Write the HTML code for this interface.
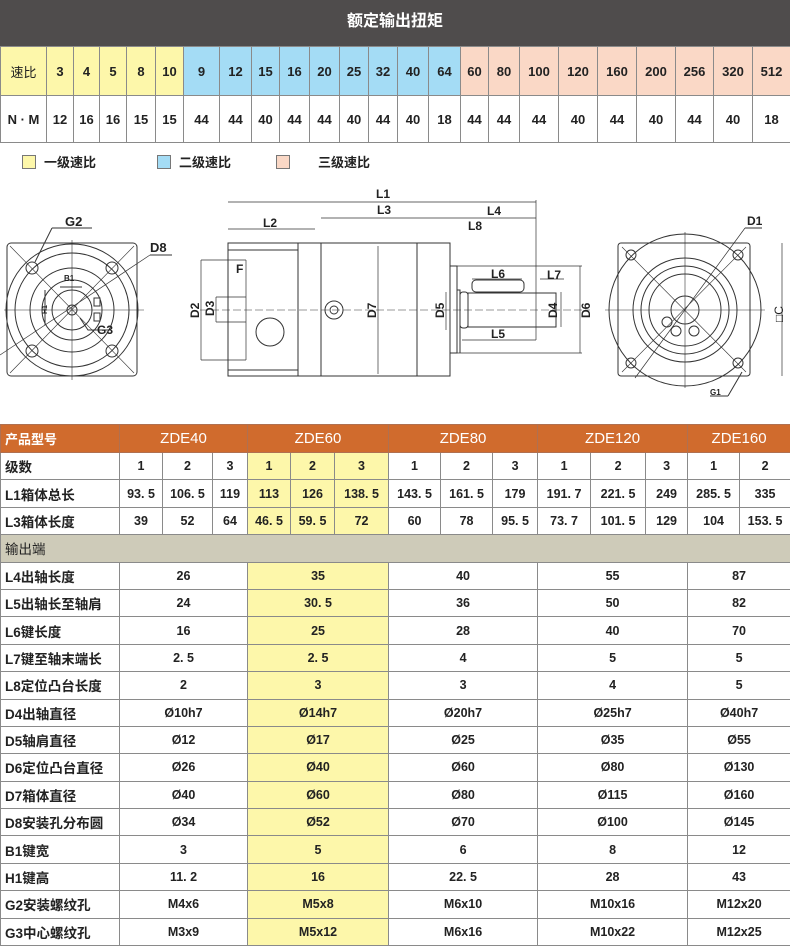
<!DOCTYPE html>
<html><head><meta charset="utf-8">
<style>
*{margin:0;padding:0;box-sizing:border-box}
body{width:790px;height:947px;background:#fff;position:relative;overflow:hidden;font-family:"Liberation Sans","Noto Sans CJK SC",sans-serif;color:#222}
.title{position:absolute;left:0;top:0;width:790px;height:46px;background:#4f4c4c;color:#fff;font-weight:bold;font-size:16px;text-align:center;line-height:44px}
table{border-collapse:collapse;table-layout:fixed;position:absolute;left:0}
td{border:1px solid #8a8a8a;text-align:center;font-weight:bold;font-size:13px;padding:0;overflow:hidden;white-space:nowrap}
#t1{top:46px;width:790px}
#t1 tr.a td{height:49px}
#t1 tr.b td{height:47px}
.y{background:#fdf7aa}.bl{background:#a4dcf5}.p{background:#fad8c6}
.leg{position:absolute;top:152px;font-size:13px;font-weight:bold}
.leg span{display:inline-block;width:14px;height:14px;border:1px solid #777;vertical-align:-2px;margin-right:8px}
#t2{top:424px;width:790px}
#t2 td{height:27.4px;font-size:12.5px}
#t2 td.l{text-align:left;padding-left:4px;font-size:13.5px}
#t2 tr.h td{background:#d06b2d;color:#fff;font-weight:normal;font-size:15px;height:28px;border-color:#b07050}
#t2 tr.h td.l{font-weight:bold;font-size:13px}
#t2 tr.g td{background:#cecbb9;font-weight:normal}
</style></head><body>
<div class="title">额定输出扭矩</div>
<table id="t1">
<colgroup><col style="width:46px"><col style="width:27px"><col style="width:26px"><col style="width:27px"><col style="width:29px"><col style="width:28px"><col style="width:36px"><col style="width:32px"><col style="width:28px"><col style="width:30px"><col style="width:30px"><col style="width:29px"><col style="width:29px"><col style="width:31px"><col style="width:32px"><col style="width:28px"><col style="width:31px"><col style="width:39px"><col style="width:39px"><col style="width:39px"><col style="width:39px"><col style="width:38px"><col style="width:39px"><col style="width:38px"></colgroup>
<tr class="a"><td class="y" style="font-weight:normal">速比</td><td class="y">3</td><td class="y">4</td><td class="y">5</td><td class="y">8</td><td class="y">10</td><td class="bl">9</td><td class="bl">12</td><td class="bl">15</td><td class="bl">16</td><td class="bl">20</td><td class="bl">25</td><td class="bl">32</td><td class="bl">40</td><td class="bl">64</td><td class="p">60</td><td class="p">80</td><td class="p">100</td><td class="p">120</td><td class="p">160</td><td class="p">200</td><td class="p">256</td><td class="p">320</td><td class="p">512</td></tr>
<tr class="b"><td>N · M</td><td>12</td><td>16</td><td>16</td><td>15</td><td>15</td><td>44</td><td>44</td><td>40</td><td>44</td><td>44</td><td>40</td><td>44</td><td>40</td><td>18</td><td>44</td><td>44</td><td>44</td><td>40</td><td>44</td><td>40</td><td>44</td><td>40</td><td>18</td></tr>
</table>
<div class="leg" style="left:22px"><span class="y"></span>一级速比</div>
<div class="leg" style="left:157px"><span class="bl"></span>二级速比</div>
<div class="leg" style="left:276px"><span class="p" style="margin-right:28px"></span>三级速比</div>

<svg style="position:absolute;left:0;top:180px" width="790" height="240" viewBox="0 180 790 240" fill="none" stroke="#333" stroke-width="1" font-family="Liberation Sans, sans-serif" font-weight="bold">
<rect x="7" y="243" width="130" height="133" rx="4"/>
<circle cx="72" cy="310" r="66"/><circle cx="72" cy="310" r="57"/><circle cx="72" cy="310" r="42"/><circle cx="72" cy="310" r="30"/><circle cx="72" cy="310" r="20"/><circle cx="72" cy="310" r="5"/>
<circle cx="32" cy="268" r="6"/><circle cx="112" cy="268" r="6"/><circle cx="32" cy="351" r="6"/><circle cx="112" cy="351" r="6"/>
<line x1="4" y1="310" x2="144" y2="310" stroke-width=".6"/><line x1="72" y1="240" x2="72" y2="380" stroke-width=".6"/>
<line x1="10" y1="246" x2="134" y2="373" stroke-width=".6"/><line x1="134" y1="246" x2="10" y2="373" stroke-width=".6"/>
<line x1="35" y1="262" x2="52" y2="228"/><line x1="52" y1="228" x2="92" y2="228"/>
<line x1="0" y1="355" x2="150" y2="255" stroke-width=".7"/><line x1="150" y1="255" x2="172" y2="255"/>
<path d="M80 318 L88 330 L110 330"/><rect x="94" y="298" width="6" height="8"/><rect x="94" y="313" width="6" height="8"/>
<path d="M45 290 V325 M60 287 H82" />
<g fill="#222" stroke="none"><text x="65" y="226" font-size="13">G2</text><text x="150" y="252" font-size="13">D8</text><text x="64" y="281" font-size="8">B1</text><text x="97" y="334" font-size="12">G3</text><text x="41" y="320" font-size="7" transform="rotate(-90 41 314)">H1</text></g>
<rect x="228" y="243" width="222" height="133"/><line x1="228" y1="250" x2="298" y2="250"/><line x1="228" y1="370" x2="298" y2="370"/><line x1="298" y1="243" x2="298" y2="376"/><line x1="321" y1="243" x2="321" y2="376"/><line x1="417" y1="243" x2="417" y2="376"/>
<rect x="450" y="266" width="7" height="87"/><line x1="457" y1="266" x2="582" y2="266" stroke-width=".7"/><line x1="457" y1="353" x2="582" y2="353" stroke-width=".7"/>
<path d="M457 290 H460 V353" /><rect x="460" y="292" width="8" height="36" rx="3"/><rect x="468" y="293" width="88" height="34"/><rect x="472" y="280" width="52" height="12" rx="4"/>
<circle cx="334" cy="310" r="9"/><circle cx="334" cy="310" r="4"/><circle cx="270" cy="332" r="14"/>
<line x1="200" y1="310" x2="590" y2="310" stroke-width=".5" stroke-dasharray="8 3"/>
<line x1="228" y1="202" x2="536" y2="202" stroke-width=".7"/><line x1="321" y1="218" x2="536" y2="218" stroke-width=".7"/><line x1="228" y1="229" x2="315" y2="229" stroke-width=".7"/><line x1="536" y1="200" x2="536" y2="340" stroke-width=".7"/>
<line x1="201" y1="260" x2="246" y2="260" stroke-width=".7"/><line x1="201" y1="360" x2="246" y2="360" stroke-width=".7"/><line x1="201" y1="260" x2="201" y2="360" stroke-width=".7"/><line x1="246" y1="260" x2="246" y2="360" stroke-width=".7"/>
<line x1="216" y1="297" x2="246" y2="297" stroke-width=".7"/><line x1="216" y1="322" x2="246" y2="322" stroke-width=".7"/><line x1="216" y1="297" x2="216" y2="322" stroke-width=".7"/>
<line x1="378" y1="246" x2="378" y2="374" stroke-width=".7"/><line x1="446" y1="292" x2="446" y2="330" stroke-width=".7"/><line x1="561" y1="292" x2="561" y2="327" stroke-width=".7"/><line x1="580" y1="266" x2="580" y2="353" stroke-width=".7"/>
<line x1="462" y1="340" x2="536" y2="340" stroke-width=".7"/><line x1="472" y1="279" x2="522" y2="279" stroke-width=".7"/><line x1="540" y1="279" x2="564" y2="279" stroke-width=".7"/>
<g fill="#222" stroke="none" font-size="12"><text x="376" y="198">L1</text><text x="377" y="214">L3</text><text x="263" y="227">L2</text><text x="487" y="215">L4</text><text x="468" y="230">L8</text><text x="236" y="273">F</text><text x="491" y="278">L6</text><text x="547" y="279">L7</text><text x="491" y="338">L5</text>
<text transform="translate(199 318) rotate(-90)">D2</text><text transform="translate(214 316) rotate(-90)">D3</text><text transform="translate(376 318) rotate(-90)">D7</text><text transform="translate(444 318) rotate(-90)">D5</text><text transform="translate(557 318) rotate(-90)">D4</text><text transform="translate(590 318) rotate(-90)">D6</text></g>
<rect x="618" y="243" width="132" height="133" rx="3"/><circle cx="685" cy="310" r="76"/><circle cx="685" cy="310" r="52"/><circle cx="685" cy="310" r="44"/><circle cx="685" cy="310" r="36"/><circle cx="685" cy="310" r="14"/>
<circle cx="631" cy="255" r="5"/><circle cx="738" cy="255" r="5"/><circle cx="631" cy="363" r="5"/><circle cx="738" cy="363" r="5"/>
<circle cx="667" cy="322" r="5"/><circle cx="676" cy="331" r="5"/><circle cx="694" cy="331" r="5"/>
<line x1="605" y1="310" x2="765" y2="310" stroke-width=".6"/><line x1="685" y1="232" x2="685" y2="388" stroke-width=".6"/><line x1="622" y1="247" x2="746" y2="372" stroke-width=".6"/><line x1="746" y1="247" x2="622" y2="372" stroke-width=".6"/>
<line x1="635" y1="378" x2="745" y2="228" stroke-width=".7"/><line x1="745" y1="228" x2="762" y2="228"/><line x1="742" y1="372" x2="728" y2="396"/><line x1="710" y1="396" x2="728" y2="396"/><line x1="782" y1="243" x2="782" y2="376" stroke-width=".7"/>
<g fill="#222" stroke="none"><text x="747" y="225" font-size="12">D1</text><text x="710" y="395" font-size="8">G1</text><text transform="translate(783 322) rotate(-90)" font-size="12" font-weight="normal">□C</text></g>
</svg>

<table id="t2">
<colgroup><col style="width:119px"><col style="width:43px"><col style="width:50px"><col style="width:35px"><col style="width:43px"><col style="width:44px"><col style="width:54px"><col style="width:52px"><col style="width:52px"><col style="width:45px"><col style="width:53px"><col style="width:55px"><col style="width:42px"><col style="width:52px"><col style="width:51px"></colgroup>
<tr class="h"><td class="l">产品型号</td><td colspan="3">ZDE40</td><td colspan="3">ZDE60</td><td colspan="3">ZDE80</td><td colspan="3">ZDE120</td><td colspan="2">ZDE160</td></tr>
<tr><td class="l">级数</td><td>1</td><td>2</td><td>3</td><td class="y">1</td><td class="y">2</td><td class="y">3</td><td>1</td><td>2</td><td>3</td><td>1</td><td>2</td><td>3</td><td>1</td><td>2</td></tr>
<tr><td class="l">L1箱体总长</td><td>93. 5</td><td>106. 5</td><td>119</td><td class="y">113</td><td class="y">126</td><td class="y">138. 5</td><td>143. 5</td><td>161. 5</td><td>179</td><td>191. 7</td><td>221. 5</td><td>249</td><td>285. 5</td><td>335</td></tr>
<tr><td class="l">L3箱体长度</td><td>39</td><td>52</td><td>64</td><td class="y">46. 5</td><td class="y">59. 5</td><td class="y">72</td><td>60</td><td>78</td><td>95. 5</td><td>73. 7</td><td>101. 5</td><td>129</td><td>104</td><td>153. 5</td></tr>
<tr class="g"><td class="l" colspan="15" style="font-weight:normal">输出端</td></tr>
<tr><td class="l">L4出轴长度</td><td colspan="3">26</td><td colspan="3" class="y">35</td><td colspan="3">40</td><td colspan="3">55</td><td colspan="2">87</td></tr>
<tr><td class="l">L5出轴长至轴肩</td><td colspan="3">24</td><td colspan="3" class="y">30. 5</td><td colspan="3">36</td><td colspan="3">50</td><td colspan="2">82</td></tr>
<tr><td class="l">L6键长度</td><td colspan="3">16</td><td colspan="3" class="y">25</td><td colspan="3">28</td><td colspan="3">40</td><td colspan="2">70</td></tr>
<tr><td class="l">L7键至轴末端长</td><td colspan="3">2. 5</td><td colspan="3" class="y">2. 5</td><td colspan="3">4</td><td colspan="3">5</td><td colspan="2">5</td></tr>
<tr><td class="l">L8定位凸台长度</td><td colspan="3">2</td><td colspan="3" class="y">3</td><td colspan="3">3</td><td colspan="3">4</td><td colspan="2">5</td></tr>
<tr><td class="l">D4出轴直径</td><td colspan="3">Ø10h7</td><td colspan="3" class="y">Ø14h7</td><td colspan="3">Ø20h7</td><td colspan="3">Ø25h7</td><td colspan="2">Ø40h7</td></tr>
<tr><td class="l">D5轴肩直径</td><td colspan="3">Ø12</td><td colspan="3" class="y">Ø17</td><td colspan="3">Ø25</td><td colspan="3">Ø35</td><td colspan="2">Ø55</td></tr>
<tr><td class="l">D6定位凸台直径</td><td colspan="3">Ø26</td><td colspan="3" class="y">Ø40</td><td colspan="3">Ø60</td><td colspan="3">Ø80</td><td colspan="2">Ø130</td></tr>
<tr><td class="l">D7箱体直径</td><td colspan="3">Ø40</td><td colspan="3" class="y">Ø60</td><td colspan="3">Ø80</td><td colspan="3">Ø115</td><td colspan="2">Ø160</td></tr>
<tr><td class="l">D8安装孔分布圆</td><td colspan="3">Ø34</td><td colspan="3" class="y">Ø52</td><td colspan="3">Ø70</td><td colspan="3">Ø100</td><td colspan="2">Ø145</td></tr>
<tr><td class="l">B1键宽</td><td colspan="3">3</td><td colspan="3" class="y">5</td><td colspan="3">6</td><td colspan="3">8</td><td colspan="2">12</td></tr>
<tr><td class="l">H1键高</td><td colspan="3">11. 2</td><td colspan="3" class="y">16</td><td colspan="3">22. 5</td><td colspan="3">28</td><td colspan="2">43</td></tr>
<tr><td class="l">G2安装螺纹孔</td><td colspan="3">M4x6</td><td colspan="3" class="y">M5x8</td><td colspan="3">M6x10</td><td colspan="3">M10x16</td><td colspan="2">M12x20</td></tr>
<tr><td class="l">G3中心螺纹孔</td><td colspan="3">M3x9</td><td colspan="3" class="y">M5x12</td><td colspan="3">M6x16</td><td colspan="3">M10x22</td><td colspan="2">M12x25</td></tr>
</table>
</body></html>
